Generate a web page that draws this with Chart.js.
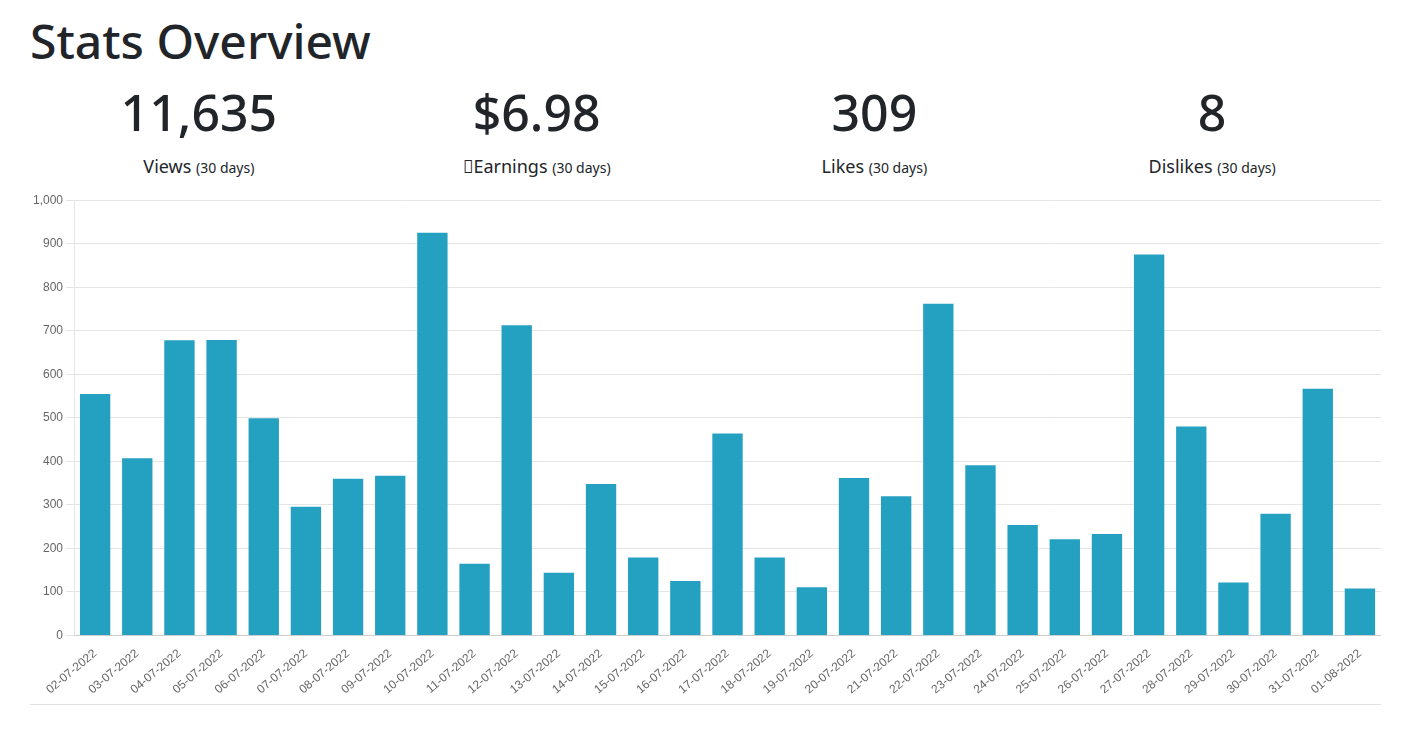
<!DOCTYPE html>
<html>
<head>
<meta charset="utf-8">
<script src="https://cdn.jsdelivr.net/npm/chart.js@4"></script>
<style>
    body { margin: 0; font-family: "Noto Sans", "Open Sans", sans-serif; color: #212529; background: #fff; }
    .wrap { margin: 0 38px 0 30px; }
    h1 { font-size: 48px; font-weight: 500; margin: 10px 0 0 0; line-height: 62px; }
    .stats { display: flex; margin-top: 10px; }
    .stat { flex: 1; text-align: center; }
    .num { font-size: 50px; font-weight: 500; line-height: 60px; }
    .lbl { font-size: 18px; margin-top: 12px; }
    .lbl small { font-size: 14px; }
    .chartBox { position: relative; height: 510px; margin-top: 12px; }
    hr { border: 0; border-top: 1px solid #dee2e6; margin: 4px 0 0 0; }
</style>
</head>
<body>
<div class="wrap">
    <h1>Stats Overview</h1>
    <div class="stats">
        <div class="stat"><div class="num">11,635</div><div class="lbl">Views <small>(30 days)</small></div></div>
        <div class="stat"><div class="num">$6.98</div><div class="lbl">&#xf155;Earnings <small>(30 days)</small></div></div>
        <div class="stat"><div class="num">309</div><div class="lbl">Likes <small>(30 days)</small></div></div>
        <div class="stat"><div class="num">8</div><div class="lbl">Dislikes <small>(30 days)</small></div></div>
    </div>
    <div class="chartBox"><canvas id="chartViews"></canvas></div>
    <hr>
</div>
<script>
const vistas = {
    '02-07-2022': 555, '03-07-2022': 407, '04-07-2022': 678, '05-07-2022': 679,
    '06-07-2022': 499, '07-07-2022': 296, '08-07-2022': 360, '09-07-2022': 367,
    '10-07-2022': 925, '11-07-2022': 165, '12-07-2022': 713, '13-07-2022': 144,
    '14-07-2022': 348, '15-07-2022': 179, '16-07-2022': 125, '17-07-2022': 464,
    '18-07-2022': 179, '19-07-2022': 111, '20-07-2022': 362, '21-07-2022': 320,
    '22-07-2022': 762, '23-07-2022': 391, '24-07-2022': 254, '25-07-2022': 221,
    '26-07-2022': 233, '27-07-2022': 875, '28-07-2022': 480, '29-07-2022': 122,
    '30-07-2022': 280, '31-07-2022': 567, '01-08-2022': 108
};

new Chart(document.getElementById('chartViews').getContext('2d'), {
    type: 'bar',
    data: {
        labels: Object.keys(vistas),
        datasets: [{
            label: 'Views',
            data: Object.values(vistas),
            backgroundColor: '#24a1c1',
            categoryPercentage: 0.8,
            barPercentage: 0.9
        }]
    },
    options: {
        responsive: true,
        maintainAspectRatio: false,
        animation: false,
        plugins: { legend: { display: false } },
        scales: {
            x: {
                grid: { display: false },
                ticks: { color: '#666', font: { size: 12 }, maxRotation: 40, minRotation: 40 }
            },
            y: {
                min: 0,
                max: 1000,
                ticks: { stepSize: 100, color: '#666', font: { size: 12 } },
                grid: { color: '#e5e5e5' }
            }
        }
    }
});
</script>
</body>
</html>
